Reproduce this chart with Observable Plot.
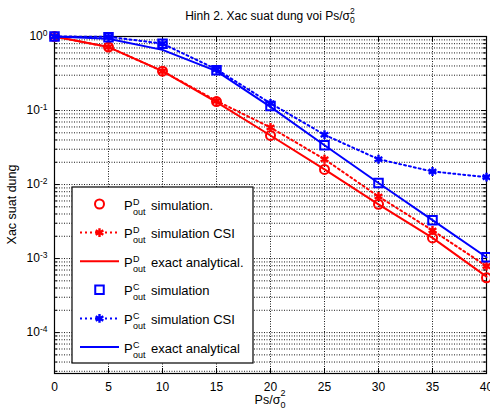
<!DOCTYPE html>
<html><head><meta charset="utf-8">
<script src="https://cdn.jsdelivr.net/npm/d3@7"></script>
<script src="https://cdn.jsdelivr.net/npm/@observablehq/plot@0.6"></script>
<style>
body{margin:0;background:#fff;}
svg{font-family:"Liberation Sans",Arial,sans-serif;}
</style></head><body><div id="chart"></div>
<script>
// ---- data ----
const snr = [0, 5, 10, 15, 20, 25, 30, 35, 40];
const pdSim   = [1, 0.72, 0.34, 0.132, 0.046, 0.016, 0.0054, 0.0019, 0.00055];
const pdCsi   = [1, 0.72, 0.34, 0.135, 0.059, 0.022, 0.0069, 0.0024, 0.00079];
const pdExact = [1, 0.72, 0.34, 0.13, 0.046, 0.016, 0.0054, 0.0019, 0.00057];
const pcSim   = [1, 0.98, 0.80, 0.35, 0.115, 0.034, 0.0105, 0.0033, 0.00104];
const pcCsi   = [1, 0.99, 0.80, 0.36, 0.125, 0.047, 0.022, 0.015, 0.0126];
const pcExact = [1, 0.93, 0.66, 0.34, 0.112, 0.034, 0.0105, 0.0033, 0.00104];
const xTicks = [0, 5, 10, 15, 20, 25, 30, 35, 40];
const yTicks = [1e-4, 1e-3, 1e-2, 1e-1, 1];
const yDomain = [2.8e-5, 1];
const legendSup = ["D", "D", "D", "C", "C", "C"];
const legendText = ["simulation.", "simulation CSI", "exact analytical.", "simulation", "simulation CSI", "exact analytical"];
const titleText = "Hinh 2. Xac suat dung voi Ps/\u03c3";
const xLabelText = "Ps/\u03c3";
const yLabelText = "Xac suat dung";

// ---- derived ----
const rows = snr.map((x, i) => ({x, pdSim: pdSim[i], pdCsi: pdCsi[i], pdExact: pdExact[i], pcSim: pcSim[i], pcCsi: pcCsi[i], pcExact: pcExact[i]}));
const yMinor = [];
for (let e = -5; e <= -1; e++) for (let k = 1; k <= 9; k++) { const v = k * Math.pow(10, e); if (v >= yDomain[0] && v < 1) yMinor.push(v); }
const yMinorOnly = yMinor.filter(v => !yTicks.some(t => Math.abs(t - v) / t < 1e-9));
const xInner = xTicks.slice(1, -1);
const RED = "#ff0000", BLUE = "#0000ff";
const grid = {stroke: "#000", strokeOpacity: 0.9, strokeDasharray: "1,1.5", strokeWidth: 1};
const W = 490, H = 417, ML = 54, MR = 4, MT = 36, MB = 44;
const PW = W - ML - MR, PH = H - MT - MB;

const plot = Plot.plot({
  width: W, height: H,
  marginLeft: ML, marginRight: MR, marginTop: MT, marginBottom: MB,
  style: {fontFamily: "Liberation Sans, Arial, sans-serif", fontSize: "12px", background: "white", color: "black", overflow: "visible"},
  x: {domain: [0, 40]},
  y: {type: "log", domain: yDomain},
  marks: [
    Plot.gridX({ticks: xInner, ...grid}),
    Plot.gridY({ticks: yMinor.filter(v => v < 1), ...grid}),
    // inward ticks
    Plot.tickX(xTicks, {x: d => d, insetTop: PH - 5, stroke: "#000"}),
    Plot.tickX(xTicks, {x: d => d, insetBottom: PH - 5, stroke: "#000"}),
    Plot.tickY(yTicks, {y: d => d, insetRight: PW - 5, stroke: "#000"}),
    Plot.tickY(yTicks, {y: d => d, insetLeft: PW - 5, stroke: "#000"}),
    Plot.tickY(yMinorOnly, {y: d => d, insetRight: PW - 3, stroke: "#000"}),
    Plot.tickY(yMinorOnly, {y: d => d, insetLeft: PW - 3, stroke: "#000"}),
    Plot.frame({stroke: "#000", strokeWidth: 1.2}),
    Plot.axisX({ticks: xTicks, tickSize: 0, tickPadding: 9, label: null, fontSize: 12}),
    Plot.axisY({ticks: yTicks, tickSize: 0, tickPadding: 7, label: null, fontSize: 12, tickFormat: d => String(Math.round(Math.log10(d)))}),
    // D series
    Plot.dot(rows, {x: "x", y: "pdSim", symbol: "circle", r: 4.5, stroke: RED, strokeWidth: 2, fill: "none"}),
    Plot.line(rows, {x: "x", y: "pdCsi", stroke: RED, strokeWidth: 2, strokeDasharray: "2,3"}),
    Plot.dot(rows, {x: "x", y: "pdCsi", symbol: "asterisk", r: 4.2, stroke: RED, strokeWidth: 2.4}),
    Plot.line(rows, {x: "x", y: "pdExact", stroke: RED, strokeWidth: 2}),
    // C series
    Plot.dot(rows, {x: "x", y: "pcSim", symbol: "square", r: 4.8, stroke: BLUE, strokeWidth: 2, fill: "none"}),
    Plot.line(rows, {x: "x", y: "pcCsi", stroke: BLUE, strokeWidth: 2, strokeDasharray: "2,3"}),
    Plot.dot(rows, {x: "x", y: "pcCsi", symbol: "asterisk", r: 4.2, stroke: BLUE, strokeWidth: 2.4}),
    Plot.line(rows, {x: "x", y: "pcExact", stroke: BLUE, strokeWidth: 2})
  ]
});
document.getElementById("chart").appendChild(plot);
const svg = d3.select(plot);

// y tick labels as 10^k
svg.selectAll('g[aria-label="y-axis tick label"] text').each(function () {
  const t = d3.select(this); const e = t.text();
  t.text("10");
  t.append("tspan").attr("dy", "-0.55em").attr("font-size", 8.5).text(e);
});

// title
const title = svg.append("text").attr("x", ML + PW / 2).attr("y", 20).attr("text-anchor", "middle").attr("font-size", 12).attr("fill", "#000");
title.append("tspan").text(titleText);
title.append("tspan").attr("font-size", 8.5).attr("dy", -6).text("2");
title.append("tspan").attr("font-size", 8.5).attr("dx", -4.7).attr("dy", 9).text("0");

// x label
const xl = svg.append("text").attr("x", ML + PW / 2).attr("y", 404).attr("text-anchor", "middle").attr("font-size", 12.5).attr("fill", "#000");
xl.append("tspan").text(xLabelText);
xl.append("tspan").attr("font-size", 9).attr("dy", -8).text("2");
xl.append("tspan").attr("font-size", 9).attr("dx", -5).attr("dy", 12).text("0");

// y label
svg.append("text").attr("transform", `translate(16,${MT + PH / 2}) rotate(-90)`).attr("text-anchor", "middle").attr("font-size", 12.5).attr("fill", "#000").text(yLabelText);

// legend
const lg = svg.append("g").attr("text-anchor", "start");
lg.append("rect").attr("x", 72).attr("y", 187).attr("width", 181).attr("height", 176).attr("fill", "#fff").attr("stroke", "#000").attr("stroke-width", 1.2);
const styles = [
  {c: RED, line: null, mark: "circle"},
  {c: RED, line: "2,3", mark: "asterisk"},
  {c: RED, line: "", mark: null},
  {c: BLUE, line: null, mark: "square"},
  {c: BLUE, line: "2,3", mark: "asterisk"},
  {c: BLUE, line: "", mark: null}
];
const symMap = {circle: d3.symbolCircle, square: d3.symbolSquare, asterisk: d3.symbolAsterisk};
legendText.forEach((txt, i) => {
  const cy = 204 + i * 28.6;
  const s = styles[i];
  if (s.line !== null) lg.append("line").attr("x1", 80).attr("x2", 119).attr("y1", cy).attr("y2", cy).attr("stroke", s.c).attr("stroke-width", 2).attr("stroke-dasharray", s.line || null);
  if (s.mark) {
    const r = s.mark === "square" ? 4.8 : s.mark === "circle" ? 4.5 : 4.2;
    lg.append("path").attr("d", d3.symbol(symMap[s.mark], r * r * Math.PI)()).attr("transform", `translate(99.5,${cy})`)
      .attr("fill", "none").attr("stroke", s.c).attr("stroke-width", s.mark === "asterisk" ? 2.4 : 2);
  }
  const t = lg.append("text").attr("x", 124).attr("y", cy + 5.5).attr("font-size", 13).attr("fill", "#000").attr("text-anchor", "start");
  t.append("tspan").text("P");
  t.append("tspan").attr("x", 133).attr("dy", -5).attr("font-size", 9).text(legendSup[i]);
  t.append("tspan").attr("x", 133).attr("dy", 10).attr("font-size", 9).text("out");
  t.append("tspan").attr("x", 151).attr("dy", -5).text(txt);
});
</script></body></html>
